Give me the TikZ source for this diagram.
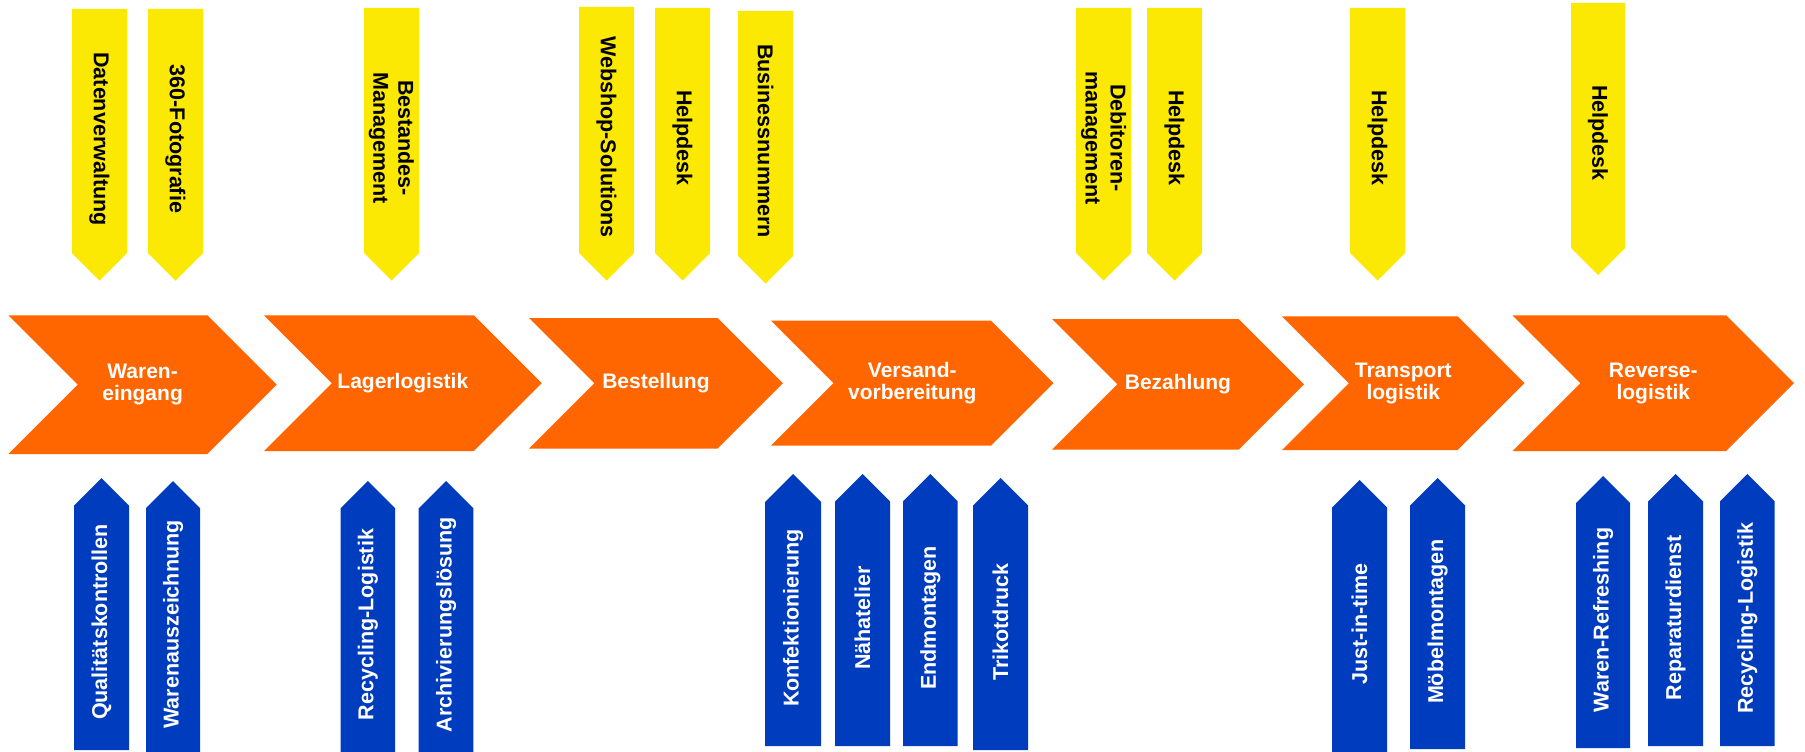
\documentclass[tikz,border=0pt]{standalone}
\usepackage{fontspec}
\setmainfont{Liberation Sans}
\definecolor{orng}{RGB}{255,102,0}
\definecolor{ylw}{RGB}{251,232,3}
\definecolor{blu}{RGB}{0,60,190}
\tikzset{
  ctext/.style={text=white,font=\bfseries\fontsize{21}{22}\selectfont,align=center,inner sep=0pt},
  ytext/.style={text=black,font=\bfseries\fontsize{21.5}{25}\selectfont,align=center,inner sep=0pt,rotate=-90},
  btext/.style={text=white,font=\bfseries\fontsize{21.5}{25}\selectfont,align=center,inner sep=0pt,rotate=90},
}
% chevron: name, left, right, top, bottom, text
\newcommand\chevr[6]{%
  \pgfmathsetmacro\hh{(#5-#4)/2}%
  \pgfmathsetmacro\my{(#4+#5)/2}%
  \fill[orng] (#2,#4) -- (#3,#4) -- (#3+\hh,\my) -- (#3,#5) -- (#2,#5) -- (#2+\hh,\my) -- cycle;
  \node[ctext] (#1) at ({(#2+#3+\hh)/2},\my) {#6};
}
% yellow: name, x1, x2, top, shoulder, text
\newcommand\yelbox[6]{%
  \pgfmathsetmacro\hw{(#3-#2)/2}%
  \fill[ylw] (#2,#4) -- (#3,#4) -- (#3,#5) -- (#2+\hw,#5+\hw) -- (#2,#5) -- cycle;
  \node[ytext] (#1) at (#2+\hw,#4+130) {#6};
}
% blue: name, x1, x2, tip, bottom, text
\newcommand\blubox[6]{%
  \pgfmathsetmacro\hw{(#3-#2)/2}%
  \fill[blu] (#2+\hw,#4) -- (#3,#4+\hw) -- (#3,#5) -- (#2,#5) -- (#2,#4+\hw) -- cycle;
  \node[btext] (#1) at (#2+\hw,{(#4+#5)/2+8}) {#6};
}
\begin{document}
\begin{tikzpicture}[x=1pt,y=-1pt]
\useasboundingbox (0,0) rectangle (1805,752);
\fill[white] (0,0) rectangle (1805,752);

\chevr{c1}{8.4}{207.4}{315.3}{454}{Waren-\\eingang}
\chevr{c2}{264}{473.8}{315.3}{451}{Lagerlogistik}
\chevr{c3}{529}{717.5}{318}{448.7}{Bestellung}
\chevr{c4}{771}{991}{320.7}{445.7}{Versand-\\vorbereitung}
\chevr{c5}{1052}{1238.6}{319}{449.7}{Bezahlung}
\chevr{c6}{1282}{1457.7}{316.3}{450}{Transport\\logistik}
\chevr{c7}{1512.5}{1726.2}{315.3}{451}{Reverse-\\logistik}

\yelbox{y1}{72}{127}{9}{253}{Datenverwaltung}
\yelbox{y2}{148}{203}{9}{253}{360-Fotografie}
\yelbox{y3}{364}{419}{8}{253}{Bestandes-\\Management}
\yelbox{y4}{579}{634}{7}{253}{Webshop-Solutions}
\yelbox{y5}{655}{710}{8}{253}{Helpdesk}
\yelbox{y6}{738}{793}{11}{256}{Businessnummern}
\yelbox{y7}{1076}{1131}{8}{253}{Debitoren-\\management}
\yelbox{y8}{1147}{1202}{8}{253}{Helpdesk}
\yelbox{y9}{1350}{1405}{8}{253}{Helpdesk}
\yelbox{y10}{1571}{1625}{3}{248}{Helpdesk}

\blubox{b1}{74}{129}{478}{750}{Qualitätskontrollen}
\blubox{b2}{146}{200}{481}{752}{Warenauszeichnung}
\blubox{b3}{340.6}{395}{481}{752}{Recycling-Logistik}
\blubox{b4}{418.7}{473.4}{481}{752}{Archivierungslösung}
\blubox{b5}{765}{821}{474}{746}{Konfektionierung}
\blubox{b6}{835}{890}{474}{746}{Nähatelier}
\blubox{b7}{903}{957.5}{474}{746}{Endmontagen}
\blubox{b8}{973}{1028}{478}{750}{Trikotdruck}
\blubox{b9}{1332}{1387}{480}{752}{Just-in-time}
\blubox{b10}{1410}{1465}{478}{749}{Möbelmontagen}
\blubox{b11}{1576}{1630}{476}{748}{Waren-Refreshing}
\blubox{b12}{1648}{1703}{474}{746}{Reparaturdienst}
\blubox{b13}{1720}{1774.5}{474}{746}{Recycling-Logistik}
\end{tikzpicture}
\end{document}
